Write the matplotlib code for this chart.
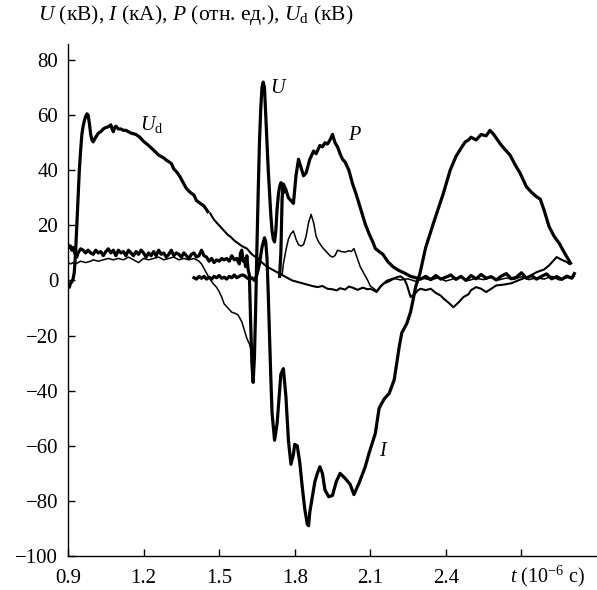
import matplotlib
matplotlib.use('Agg')
import matplotlib.pyplot as plt
import numpy as np

plt.rcParams['font.family'] = ['Liberation Serif', 'DejaVu Serif']
plt.rcParams['mathtext.fontset'] = 'custom'
plt.rcParams['mathtext.rm'] = 'Liberation Serif'
plt.rcParams['mathtext.it'] = 'Liberation Serif:italic'

# U_d: rises to 60, decays through zero, small wiggle at the end
ud_t = [0.9, 0.905, 0.91, 0.915, 0.92, 0.925, 0.93, 0.935, 0.94, 0.945, 0.95, 0.955, 0.96, 0.965, 0.97,
        0.975, 0.98, 0.985, 0.99, 0.995, 1.0, 1.01, 1.02, 1.03, 1.04, 1.05, 1.06, 1.07, 1.075, 1.08,
        1.085, 1.09, 1.1, 1.11, 1.12, 1.13, 1.15, 1.17, 1.185, 1.2, 1.22, 1.24, 1.26, 1.28, 1.29,
        1.31, 1.32, 1.335, 1.345, 1.36, 1.37, 1.385, 1.4, 1.41, 1.425, 1.44, 1.455, 1.465, 1.48,
        1.495, 1.505, 1.52, 1.535, 1.545, 1.56, 1.575, 1.59, 1.61, 1.63, 1.645, 1.656, 1.67, 1.69,
        1.71, 1.73, 1.75, 1.77, 1.79, 1.81, 1.83, 1.85, 1.87, 1.89, 1.91, 1.93, 1.95, 1.967, 1.98,
        2.0, 2.015, 2.03, 2.05, 2.07, 2.09, 2.1, 2.115, 2.125, 2.14, 2.155, 2.17, 2.19, 2.205, 2.22,
        2.235, 2.245, 2.26, 2.275, 2.29, 2.3, 2.32, 2.34, 2.36, 2.38, 2.39, 2.41, 2.43, 2.45, 2.47,
        2.49, 2.5, 2.52, 2.54, 2.56, 2.58, 2.6, 2.63, 2.66, 2.7, 2.73, 2.76, 2.79, 2.81, 2.84, 2.86,
        2.88, 2.89]
ud_v = [-1, -2.5, -1, -0.5, 0.5, 3, 10, 20, 30, 40, 47, 53, 56, 58, 59.5,
        60.5, 60, 57, 53, 51, 50.3, 52, 53.4, 54, 55, 55.5, 55.8, 56.5, 55, 54,
        55.5, 56, 55, 55, 54.5, 54.5, 53.5, 53, 52, 50.5, 49, 47.3, 45.5, 44.5, 43.7,
        42.5, 40.5, 39, 37.6, 35, 33.4, 32, 31, 29, 28, 27, 25, 24.3, 22,
        20.5, 19.5, 18, 16.5, 15.9, 14.5, 13.5, 12.5, 11.6, 9.5, 8.5, 7.9, 6.5, 5,
        4, 3, 2, 1, 0, -0.5, -1, -1.5, -2, -2.4, -2, -3, -3.2, -3.6, -2.8,
        -3.3, -2.2, -2.6, -3.4, -2.6, -3.2, -3, -3.6, -4.2, -2.4, -1, -0.5, 0.5, 1.2, 1.5,
        0.5, -1.5, -6, -5, -3.5, -3, -3.5, -3, -4.5, -5.5, -6.5, -8, -9.7, -8, -6,
        -5, -3.5, -2.4, -3, -4.2, -3, -1.8, -1.5, -1, 0.5, 1.5, 3, 4, 5.5, 8.5, 7.5,
        6.7, 6]

# U: noisy ~10 kV, then the breakdown oscillation
u_t = [0.9, 0.905, 0.91, 0.915, 0.92, 0.93, 0.935, 0.94, 0.95, 0.96, 0.97, 0.98, 0.99, 1.0, 1.01,
       1.02, 1.03, 1.04, 1.05, 1.06, 1.07, 1.08, 1.09, 1.1, 1.11, 1.12, 1.13, 1.14, 1.15, 1.16,
       1.17, 1.18, 1.19, 1.2, 1.21, 1.22, 1.23, 1.24, 1.25, 1.26, 1.27, 1.28, 1.29, 1.3, 1.31,
       1.32, 1.33, 1.34, 1.35, 1.36, 1.37, 1.38, 1.39, 1.4, 1.41, 1.42, 1.43, 1.44, 1.45, 1.46,
       1.47, 1.48, 1.49, 1.5, 1.51, 1.52, 1.53, 1.54, 1.55, 1.56, 1.57, 1.58, 1.585, 1.59, 1.595,
       1.6, 1.605, 1.61, 1.615, 1.62, 1.625, 1.63, 1.635, 1.64, 1.645, 1.65, 1.655, 1.66, 1.665,
       1.67, 1.675, 1.68, 1.685, 1.69, 1.695, 1.7, 1.705, 1.71, 1.715, 1.72, 1.725, 1.73, 1.735,
       1.74, 1.745, 1.75, 1.755]
u_v = [13, 12, 12.5, 11, 12, 9, 8.5, 10, 11.5, 11, 10, 11, 10, 9.5, 11,
       10, 10.5, 9, 10.5, 11.5, 10, 11, 9, 11, 10, 10.5, 9, 11, 10, 9,
       10.5, 9.5, 11, 10, 8.5, 10, 9, 10.5, 9, 11, 9.5, 10, 8.5, 9.5, 11,
       9, 10, 9.5, 8.5, 10, 9, 8, 9.5, 10, 8.5, 9, 11, 9, 8.5, 7,
       8, 6.5, 7.5, 7, 8, 7.5, 8, 7, 9, 7.5, 8, 6, 10, 11, 7,
       8, 5, 9, 4, 2, -15, -30, -37, -28, -10, 12, 32, 50, 62,
       70, 72, 70, 60, 50, 40, 32, 24, 18, 15, 14, 18, 26, 31,
       34, 35.5, 35, 32]

# P: power hump, then noise near zero
p_t = [1.74, 1.745, 1.75, 1.755, 1.765, 1.775, 1.785, 1.795, 1.805, 1.815, 1.825, 1.835, 1.845, 1.86,
       1.875, 1.885, 1.9, 1.91, 1.92, 1.93, 1.94, 1.95, 1.96, 1.97, 1.98, 1.99, 2.0, 2.015, 2.03,
       2.045, 2.055, 2.065, 2.08, 2.095, 2.11, 2.12, 2.135, 2.15, 2.17, 2.19, 2.21, 2.24, 2.26,
       2.28, 2.3, 2.32, 2.34, 2.36, 2.38, 2.4, 2.42, 2.44, 2.46, 2.48, 2.5, 2.52, 2.54, 2.56, 2.58,
       2.6, 2.62, 2.64, 2.66, 2.68, 2.7, 2.72, 2.74, 2.76, 2.78, 2.8, 2.82, 2.84, 2.86, 2.88, 2.9,
       2.91]
p_v = [1.5, 10, 30, 35, 33, 30, 29, 28, 38, 44, 41, 38, 39, 44,
       47, 46, 49, 48.5, 50, 49.5, 51, 53, 50, 48.5, 46, 44, 43, 40, 35,
       31, 28, 25, 20.5, 17, 14, 11.6, 10.5, 9.5, 6.8, 5, 3.8, 2.5, 1.5,
       1, 0.5, 1.5, 0.3, 1.8, 0.5, 1.2, 2, 0.4, 1.5, 0, 1.8, 0.6, 2.2, 0.8, 1.4,
       0.2, 1.6, 2.5, 0.6, 1.2, 2.8, 0.8, 1.8, 0.5, 1.5, 2.4, 0.6, 1.4, 0.4, 1.6, 0.8,
       2.5]

# I: current, negative half-wave then positive half-wave
i_t = [1.4, 1.41, 1.42, 1.43, 1.44, 1.45, 1.46, 1.47, 1.48, 1.49, 1.5, 1.51, 1.52, 1.53, 1.54,
       1.55, 1.56, 1.57, 1.58, 1.59, 1.6, 1.61, 1.62, 1.63, 1.64, 1.65, 1.66, 1.67, 1.68, 1.685,
       1.69, 1.695, 1.7, 1.705, 1.71, 1.72, 1.73, 1.74, 1.745, 1.755, 1.765, 1.775, 1.785, 1.795,
       1.8, 1.81, 1.82, 1.83, 1.84, 1.85, 1.855, 1.86, 1.87, 1.88, 1.89, 1.9, 1.91, 1.92, 1.935,
       1.95, 1.965, 1.98, 2.0, 2.02, 2.035, 2.055, 2.08, 2.095, 2.12, 2.135, 2.155, 2.175, 2.195,
       2.215, 2.225, 2.245, 2.26, 2.27, 2.28, 2.297, 2.32, 2.35, 2.39, 2.417, 2.44, 2.46, 2.477,
       2.49, 2.5, 2.52, 2.54, 2.56, 2.575, 2.59, 2.615, 2.635, 2.655, 2.675, 2.695, 2.72, 2.74,
       2.76, 2.775, 2.79, 2.81, 2.83, 2.85, 2.865, 2.88, 2.895]
i_v = [1, 0.5, 1.5, 0.8, 1.5, 0.5, 1.2, 0.5, 1.5, 1, 1.8, 0.8, 1.2, 0.5, 1.5,
       1, 2, 1, 1.5, 2, 1.8, 1, 0.5, 1, 0, 2, 6, 12, 15.5, 14,
       8, -5, -20, -35, -48, -58, -52, -40, -34, -32, -42, -58, -66.7, -63,
       -59.5, -60, -66, -75, -83, -88.5, -89, -84, -78.5, -73, -70, -67.6, -70, -76, -78.5,
       -78, -73, -70, -71.8, -74, -77.7, -73.6, -67.6, -62.7, -55.5, -46.4, -43, -41, -36,
       -24, -19, -15.6, -11.4, -7, -2.3, 2.5, 12, 20.6, 31.6, 40, 45, 48, 50.3,
       51, 52, 51, 53, 52.5, 54.5, 53, 49.7, 47.5, 45.5, 42, 38.9, 34, 32,
       30.4, 29.5, 25.5, 19.5, 16, 13.5, 11, 8.6, 6.3]

# thin trace at ~7 that drops into the first dip
a_t = [0.9, 0.91, 0.92, 0.93, 0.94, 0.95, 0.97, 0.99, 1.0, 1.02, 1.04, 1.06, 1.08, 1.1, 1.12,
       1.14, 1.16, 1.18, 1.2, 1.22, 1.24, 1.26, 1.28, 1.3, 1.32, 1.34, 1.36, 1.38, 1.4, 1.42,
       1.43, 1.445, 1.46, 1.475, 1.49, 1.5, 1.51, 1.52, 1.535, 1.55, 1.565, 1.575, 1.59, 1.6,
       1.61, 1.62, 1.63]
a_v = [6.5, 6, 6.5, 6, 6.5, 7, 6.5, 7, 7.5, 7, 7.5, 8, 7.5, 8, 7.5,
       8.5, 7.5, 6.5, 8, 7.5, 8, 8.5, 7.5, 8, 8.5, 7.5, 8, 7.5, 8, 7,
       6, 3.5, 1, -1, -2.5, -4, -6, -8.5, -10, -11.5, -12, -12.5, -15, -18,
       -21, -23, -26]

# thin trace with peaks of 18 and 24
b_t = [1.75, 1.755, 1.765, 1.775, 1.785, 1.795, 1.805, 1.815, 1.825, 1.835, 1.845, 1.855, 1.865,
       1.875, 1.885, 1.895, 1.91, 1.925, 1.94, 1.95, 1.96, 1.97, 1.985, 2.0, 2.015, 2.025, 2.035,
       2.045, 2.06, 2.075, 2.09, 2.1, 2.115, 2.125, 2.14, 2.165, 2.19, 2.22, 2.25, 2.28, 2.31,
       2.34, 2.37, 2.4, 2.43, 2.46, 2.49, 2.52, 2.55, 2.58, 2.61, 2.64, 2.67, 2.7, 2.73, 2.76,
       2.79, 2.82, 2.85, 2.88, 2.91]
b_v = [2, 6, 11, 15, 17, 18, 15, 13, 12.5, 13, 16, 21, 24,
       21, 16, 14, 12, 10.5, 9, 8.5, 9, 11, 10.5, 10.3, 10.8, 10.5, 11.6,
       9, 5, 2.5, 0, -2, -3, -3.8, -2, 0, 0.8, 0.2, 0.6, -0.3, 0.8,
       0.2, 1, -0.2, 0.6, 1.2, 0, 0.8, 0.3, 1.2, 0.2, 0.9, 0.4, 1.4, 0.3, 1,
       0.5, 1.5, 0.2, 1, 1.5]

xticks = [0.9, 1.2, 1.5, 1.8, 2.1, 2.4, 2.7]
xtick_labels = ['0.9', '1.2', '1.5', '1.8', '2.1', '2.4', '']
yticks = [-100, -80, -60, -40, -20, 0, 20, 40, 60, 80]

THICK = 2.3
THIN = 1.1
FONT = 15

fig = plt.figure(figsize=(5.97, 5.90), dpi=100)
ax = fig.add_axes([0.1139, 0.0576, 0.8861, 0.8686])

ud_t_arr = np.array(ud_t)
ud_v_arr = np.array(ud_v)
early = ud_t_arr <= 1.46
ax.plot(ud_t_arr[early], ud_v_arr[early], color='black', lw=THICK)
ax.plot(ud_t_arr[~early], ud_v_arr[~early], color='black', lw=1.5)
ax.plot(a_t, a_v, color='black', lw=THIN)
ax.plot(b_t, b_v, color='black', lw=THIN)
ax.plot(u_t, u_v, color='black', lw=THICK)
ax.plot(p_t, p_v, color='black', lw=THICK)
ax.plot(i_t, i_v, color='black', lw=THICK)

ax.set_xlim(0.9, 3.0)
ax.set_ylim(-100, 86)
ax.set_xticks(xticks)
ax.set_xticklabels(xtick_labels)
ax.set_yticks(yticks)
ax.set_yticklabels([str(v).replace('-', '\u2212') for v in yticks])
ax.tick_params(direction='in', length=5, width=1.0, labelsize=FONT, pad=7)
ax.tick_params(axis='x', pad=9)
for side in ['top', 'right']:
    ax.spines[side].set_visible(False)
for side in ['left', 'bottom']:
    ax.spines[side].set_linewidth(1.0)

# curve labels
ax.text(1.737, 69.8, '$U$', fontsize=14.5, ha='center', va='center')
ax.text(1.233, 56.7, '$U_{\\mathrm{d}}$', fontsize=14.5, ha='center', va='center')
ax.text(2.04, 52.8, '$P$', fontsize=14.5, ha='center', va='center')
ax.text(2.155, -62, '$I$', fontsize=14.5, ha='center', va='center')

# axis captions
fig.text(0.064, 0.974, '$U$ (кВ), $I$ (кА), $P$ (отн. ед.), $U_{\\mathrm{d}}$ (кВ)',
         fontsize=15.5, ha='left', va='center')
ax.text(2.655, -0.051, '$t$ (10$^{-6}$ с)', transform=ax.get_xaxis_transform(),
        fontsize=14.5, ha='left', va='baseline')

fig.savefig('out.png', dpi=100, facecolor='white')
